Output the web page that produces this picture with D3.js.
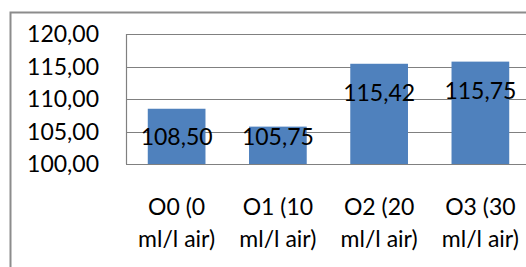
<!DOCTYPE html>
<html><head><meta charset="utf-8">
<script src="https://cdn.jsdelivr.net/npm/d3@7"></script>
<style>html,body{margin:0;padding:0;background:#fff;overflow:hidden}</style>
</head><body>
<svg id="c" width="526" height="267"></svg>
<script>
const categories = [["O0 (0","ml/l air)"],["O1 (10","ml/l air)"],["O2 (20","ml/l air)"],["O3 (30","ml/l air)"]];
const values = [108.50, 105.75, 115.42, 115.75];
const valueLabels = ["108,50","105,75","115,42","115,75"];
const yTicks = [100,105,110,115,120];
const yTickLabels = ["100,00","105,00","110,00","115,00","120,00"];

(function(){
const svg = d3.select("#c");
const font = "Lato, 'Open Sans', sans-serif";
const fs = 23;
const pLeft = 126, pTop = 34, pBottom = 164, pRight = 531;

svg.append("rect").attr("x",10.5).attr("y",12.5).attr("width",560).attr("height",300)
  .attr("fill","#fff").attr("stroke","#8c8c8c").attr("stroke-width",2);

const x = d3.scaleBand().domain(d3.range(categories.length)).range([pLeft,pRight]).paddingInner(0.43).paddingOuter(0.215);
const y = d3.scaleLinear().domain([100,120]).range([pBottom,pTop]);

svg.append("g").selectAll("line").data(yTicks).join("line")
  .attr("x1",pLeft).attr("x2",pRight).attr("y1",d=>Math.round(y(d))+0.5).attr("y2",d=>Math.round(y(d))+0.5)
  .attr("stroke","#808080").attr("stroke-width",1.2);
svg.append("line").attr("x1",pLeft+0.5).attr("x2",pLeft+0.5).attr("y1",pTop).attr("y2",pBottom)
  .attr("stroke","#808080").attr("stroke-width",1.2);

svg.append("g").selectAll("rect").data(values).join("rect")
  .attr("x",(d,i)=>x(i)).attr("width",x.bandwidth())
  .attr("y",d=>y(d)).attr("height",d=>y(100)-y(d)).attr("fill","#4f81bd");

svg.append("g").selectAll("text").data(yTicks).join("text")
  .attr("x",99).attr("y",d=>y(d)).attr("dy","0.35em").attr("text-anchor","end")
  .attr("font-family",font).attr("font-size",fs).attr("fill","#000")
  .text((d,i)=>yTickLabels[i]);

svg.append("g").selectAll("text").data(values).join("text")
  .attr("x",(d,i)=>x(i)+x.bandwidth()/2)
  .attr("y",d=>Math.min(y(d)+29, y(100)-27)).attr("dy","0.35em").attr("text-anchor","middle")
  .attr("font-family",font).attr("font-size",fs).attr("fill","#000")
  .text((d,i)=>valueLabels[i]);

const cat = svg.append("g").selectAll("text").data(categories).join("text")
  .attr("text-anchor","middle")
  .attr("font-family",font).attr("font-size",fs).attr("fill","#000");
cat.each(function(d,i){
  const t = d3.select(this);
  d.forEach((line,j)=>{
    t.append("tspan").attr("x",x(i)+x.bandwidth()/2).attr("y",207+j*31.5).attr("dy","0.35em").text(line);
  });
});
})();
</script>
</body></html>
